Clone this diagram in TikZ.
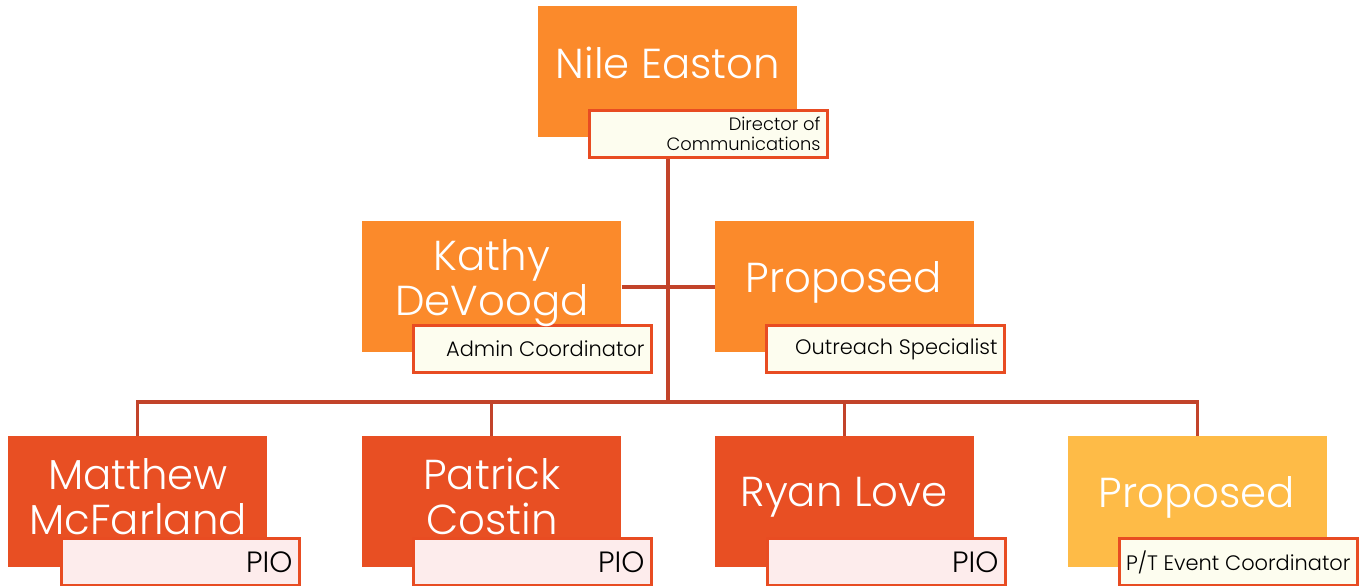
\documentclass[tikz,border=0pt]{standalone}
\usepackage{fontspec}
\setmainfont{Poppins}[UprightFont=* Light]
\definecolor{boxorange}{HTML}{FB8A2B}
\definecolor{boxred}{HTML}{E84F23}
\definecolor{boxyellow}{HTML}{FEBB47}
\definecolor{tagline}{HTML}{E84C22}
\definecolor{tagcream}{HTML}{FDFDEF}
\definecolor{tagpink}{HTML}{FDECEC}
\definecolor{wire}{HTML}{C2432A}
\tikzset{
  person/.style={rectangle, anchor=north west, inner sep=0pt,
    minimum width=194.25pt, minimum height=98.25pt, draw=none},
  pname/.style={text=white, align=center, yshift=-3.5pt,
    font=\fontsize{31.4}{33.8}\selectfont},
  tag/.style={rectangle, anchor=north west, inner sep=0pt,
    minimum width=178.5pt, minimum height=35.25pt,
    draw=tagline, line width=2.4pt},
  tagtext/.style={anchor=east, align=right, text=black,
    font=\fontsize{15.7}{15}\selectfont},
  piotext/.style={tagtext, font=\fontsize{22}{22}\selectfont},
  wireline/.style={draw=wire, line width=2.3pt}
}
\begin{document}
\begin{tikzpicture}[x=0.75pt,y=-0.75pt]
\useasboundingbox (0,0) rectangle (1365,586);
% boxes
\node[person, fill=boxorange] (ne) at (538,6) {};
\node[person, fill=boxorange] (kd) at (362,221) {};
\node[person, fill=boxorange] (po) at (715,221) {};
\node[person, fill=boxred] (mm) at (8,436) {};
\node[person, fill=boxred] (pc) at (362,436) {};
\node[person, fill=boxred] (rl) at (715,436) {};
\node[person, fill=boxyellow] (pe) at (1068,436) {};
% title tags
\node[tag, fill=tagcream] (tne) at (588,109) {};
\node[tag, fill=tagcream] (tkd) at (412,324) {};
\node[tag, fill=tagcream] (tpo) at (765,324) {};
\node[tag, fill=tagpink] (tmm) at (60,537) {};
\node[tag, fill=tagpink] (tpc) at (412,537) {};
\node[tag, fill=tagpink] (trl) at (766,537) {};
\node[tag, fill=tagcream] (tpe) at (1118,537) {};
% connectors
\coordinate (hub) at (668,402);
\draw[wireline] (hub |- tne.south) -- (hub);
\draw[wireline] (kd.east |- 0,287) -- (po.west |- 0,287);
\draw[wireline] (mm.north) -- (mm.north |- hub) -- (pe.north |- hub) -- (pe.north);
\draw[wireline] (pc.north |- hub) -- (pc.north);
\draw[wireline] (rl.north |- hub) -- (rl.north);
% names
\node[pname] at (668,58) {Nile Easton};
\node[pname] at (492,278) {Kathy\\DeVoogd};
\node[pname] at (844,278) {Proposed};
\node[pname] at (138,492) {Matthew\\McFarland};
\node[pname] at (492,492) {Patrick\\Costin};
\node[pname] at (844,493) {Ryan Love};
\node[pname] at (1197,493) {Proposed};
% titles
\node[tagtext, font=\fontsize{13.4}{15}\selectfont] at ([xshift=-3pt]tne.east) {Director of\\Communications};
\node[tagtext] at ([xshift=-3pt]tkd.east) {Admin Coordinator};
\node[tagtext] at ([xshift=-3pt]tpo.east) {Outreach Specialist};
\node[piotext] at ([xshift=-3pt]tmm.east) {PIO};
\node[piotext] at ([xshift=-3pt]tpc.east) {PIO};
\node[piotext] at ([xshift=-3pt]trl.east) {PIO};
\node[tagtext] at ([xshift=-3pt]tpe.east) {P/T Event Coordinator};
\end{tikzpicture}
\end{document}
